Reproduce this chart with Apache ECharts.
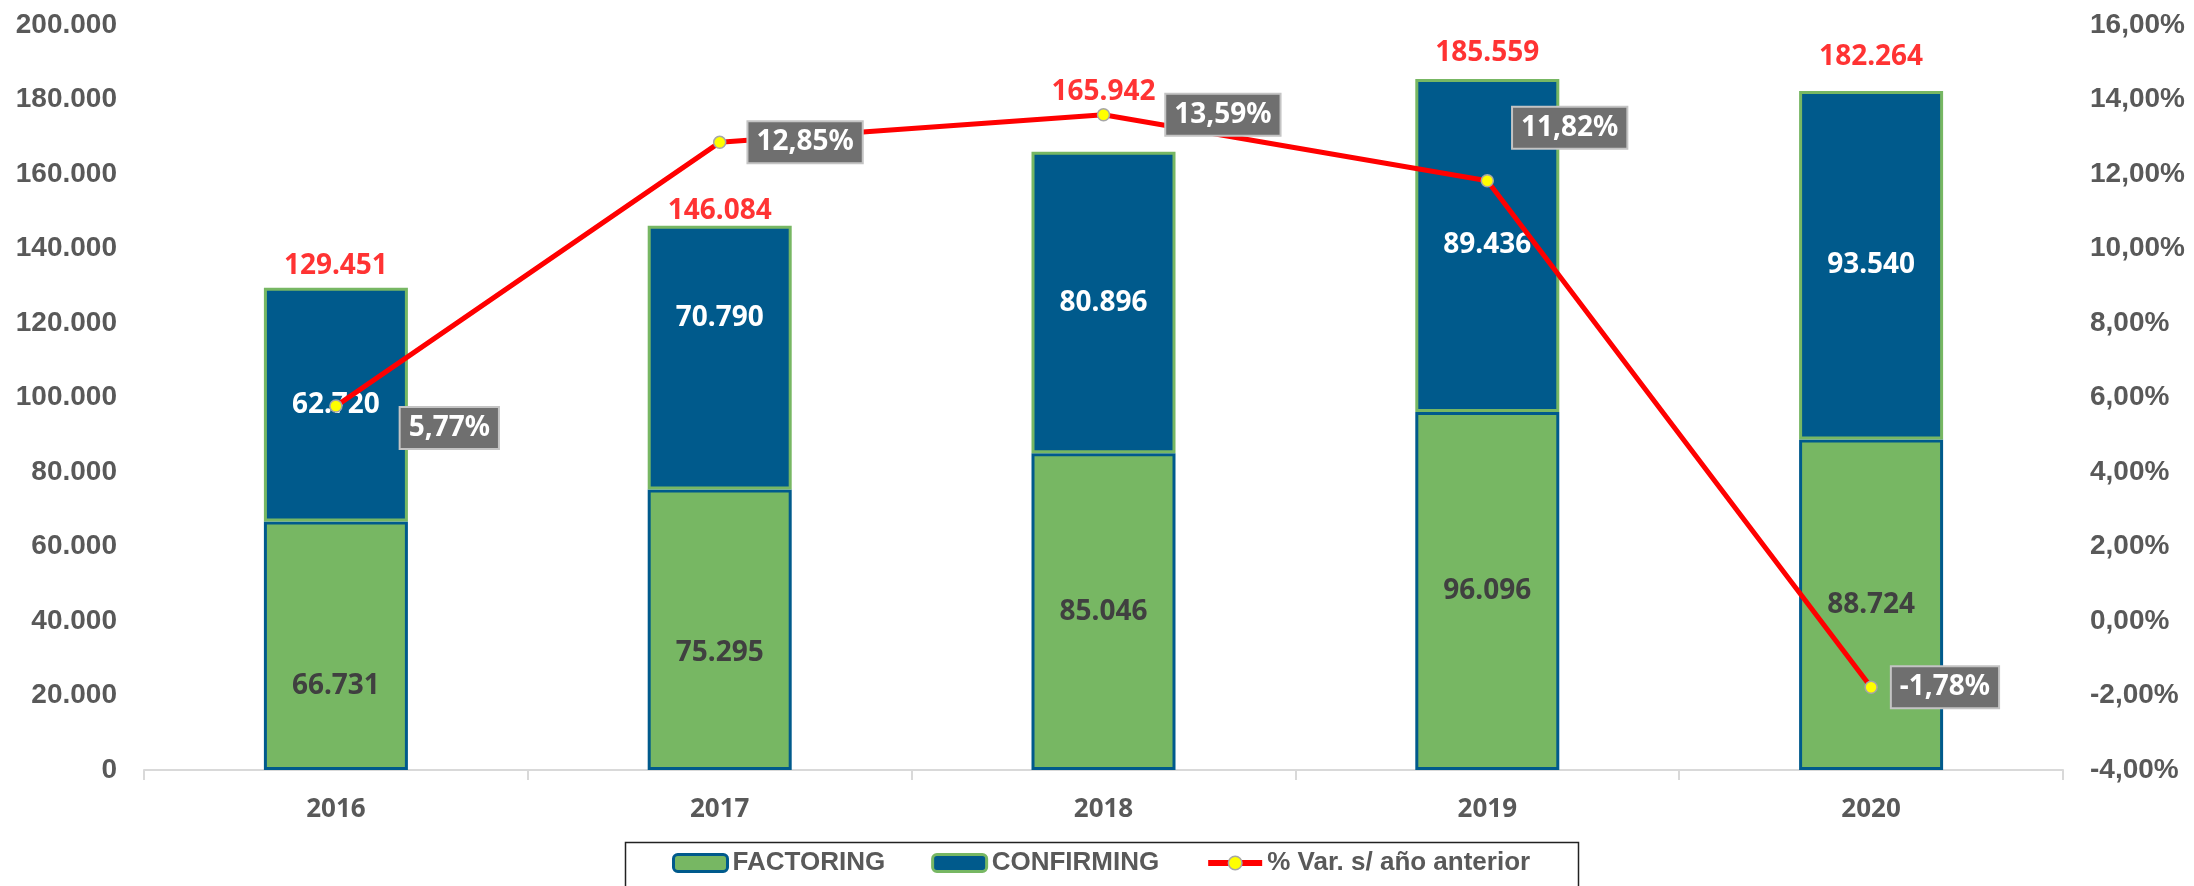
<!DOCTYPE html>
<html>
<head>
<meta charset="utf-8">
<title>Factoring y Confirming</title>
<script src="https://cdn.jsdelivr.net/npm/echarts@6/dist/echarts.min.js"></script>
<style>
  html, body { margin: 0; padding: 0; background: #fff; }
  #chart { width: 2194px; height: 886px; }
</style>
</head>
<body>
<div id="chart"></div>
<script>
// datos
var years = ['2016', '2017', '2018', '2019', '2020'];
var factoring = [66731, 75295, 85046, 96096, 88724];
var confirming = [62720, 70790, 80896, 89436, 93540];
var totals = [129451, 146084, 165942, 185559, 182264];
var varPct = [5.77, 12.85, 13.59, 11.82, -1.78];

// desplazamientos de etiquetas (como en el original)
var factoringLabelDy = [40, 23, 0, 0, 0];
var confirmingLabelDy = [0, -40, 0, 0, 0];
var totalLabelDy = [-22, -15, -60, -26, -34];
var pctLabelOffset = [[42, 22], [6, 0], [40, 0], [3, -53], [-2, 0]];

var BLUE = '#005a8c';
var GREEN = '#77b763';
var GREY = '#595959';

function miles(v) {
    return String(Math.round(v)).replace(/\B(?=(\d{3})+(?!\d))/g, '.');
}
function pct(v) {
    return v.toFixed(2).replace('.', ',') + '%';
}

var chart = echarts.init(document.getElementById('chart'));

var option = {
    backgroundColor: '#fff',
    animation: false,
    grid: { left: 144, right: 131, top: 25, bottom: 116 },
    legend: {
        data: [
            { name: 'FACTORING', itemStyle: { color: GREEN, borderColor: BLUE, borderWidth: 3 } },
            { name: 'CONFIRMING', itemStyle: { color: BLUE, borderColor: GREEN, borderWidth: 3 } },
            { name: '% Var. s/ año anterior', lineStyle: { color: '#ff0000', width: 6 },
              itemStyle: { color: '#ffff00', borderColor: '#a6a6a6', borderWidth: 1.5 } }
        ],
        left: 672,
        top: 850,
        padding: 0,
        itemGap: 46,
        itemWidth: 54,
        itemHeight: 17,
        textStyle: { color: GREY, fontFamily: 'Liberation Sans', fontWeight: 'bold', fontSize: 26 }
    },
    graphic: [{
        type: 'rect',
        shape: { x: 625.5, y: 842.5, width: 953, height: 70 },
        style: { fill: 'none', stroke: '#222', lineWidth: 1.5 },
        silent: true
    }],
    xAxis: {
        type: 'category',
        data: years,
        axisLine: { lineStyle: { color: '#d9d9d9', width: 2 } },
        axisTick: { show: true, length: 10, lineStyle: { color: '#d9d9d9', width: 2 } },
        axisLabel: { color: GREY, fontFamily: 'Noto Sans', fontWeight: 'bold', fontSize: 26, margin: 27 }
    },
    yAxis: [{
        type: 'value',
        min: 0,
        max: 200000,
        interval: 20000,
        splitLine: { show: false },
        axisLine: { show: false },
        axisTick: { show: false },
        axisLabel: {
            color: GREY, fontFamily: 'Liberation Sans', fontWeight: 'bold', fontSize: 28, margin: 27,
            formatter: function (v) { return miles(v); }
        }
    }, {
        type: 'value',
        min: -4,
        max: 16,
        interval: 2,
        splitLine: { show: false },
        axisLine: { show: false },
        axisTick: { show: false },
        axisLabel: {
            color: GREY, fontFamily: 'Liberation Sans', fontWeight: 'bold', fontSize: 28, margin: 27,
            formatter: function (v) { return pct(v); }
        }
    }],
    series: [{
        name: 'FACTORING',
        type: 'bar',
        stack: 'total',
        barWidth: 144,
        itemStyle: { color: GREEN, borderColor: BLUE, borderWidth: 3 },
        label: {
            show: true, position: 'inside', color: '#404040',
            fontFamily: 'Noto Sans', fontWeight: 'bold', fontSize: 28,
            formatter: function (p) { return miles(p.value); }
        },
        data: factoring.map(function (v, i) {
            return { value: v, label: { offset: [0, factoringLabelDy[i]] } };
        })
    }, {
        name: 'CONFIRMING',
        type: 'bar',
        stack: 'total',
        barWidth: 144,
        itemStyle: { color: BLUE, borderColor: GREEN, borderWidth: 3 },
        label: {
            show: true, position: 'inside', color: '#fff',
            fontFamily: 'Noto Sans', fontWeight: 'bold', fontSize: 28,
            formatter: function (p) { return miles(p.value); }
        },
        data: confirming.map(function (v, i) {
            return { value: v, label: { offset: [0, confirmingLabelDy[i]] } };
        })
    }, {
        name: 'Total',
        type: 'scatter',
        symbolSize: 0,
        silent: true,
        z: 4,
        label: {
            show: true, position: 'inside', color: '#ff0000',
            fontFamily: 'Noto Sans', fontWeight: 'bold', fontSize: 28,
            formatter: function (p) { return miles(p.value); }
        },
        data: totals.map(function (v, i) {
            return { value: v, label: { offset: [0, totalLabelDy[i]] } };
        })
    }, {
        name: '% Var. s/ año anterior',
        type: 'line',
        yAxisIndex: 1,
        z: 5,
        symbol: 'circle',
        symbolSize: 12,
        lineStyle: { color: '#ff0000', width: 5 },
        itemStyle: { color: '#ffff00', borderColor: '#a6a6a6', borderWidth: 1.5 },
        label: {
            show: true, position: 'right', distance: 16,
            color: '#fff', backgroundColor: '#6f6f6f',
            borderColor: '#c4c4c4', borderWidth: 2,
            padding: [6, 8, 6, 8],
            fontFamily: 'Noto Sans', fontWeight: 'bold', fontSize: 28,
            formatter: function (p) { return pct(p.value); }
        },
        data: varPct.map(function (v, i) {
            return { value: v, label: { offset: pctLabelOffset[i] } };
        })
    }]
};

chart.setOption(option);
</script>
</body>
</html>
